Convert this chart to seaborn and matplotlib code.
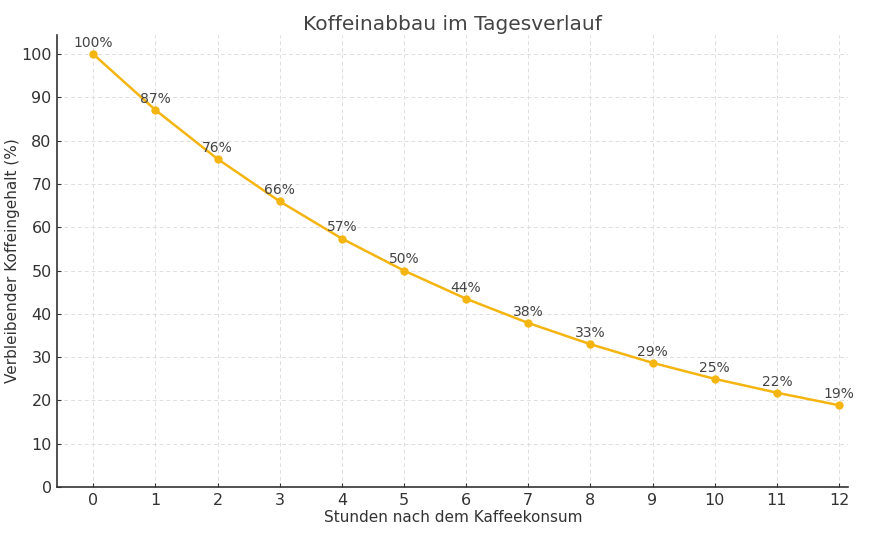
import matplotlib
matplotlib.use("Agg")
import matplotlib.pyplot as plt
import seaborn as sns
import pandas as pd

# data
hours = [0, 1, 2, 3, 4, 5, 6, 7, 8, 9, 10, 11, 12]
caffeine = [100.0, 87.1, 75.8, 66.0, 57.4, 50.0, 43.5, 37.9, 33.0, 28.7, 25.0, 21.8, 18.9]
labels = ["100%", "87%", "76%", "66%", "57%", "50%", "44%", "38%", "33%", "29%", "25%", "22%", "19%"]

df = pd.DataFrame({"h": hours, "c": caffeine})

sns.set_style("ticks")
plt.rcParams["font.family"] = ["DejaVu Sans"]
txt = "#333333"

fig, ax = plt.subplots(figsize=(8.8, 5.4), dpi=100)
sns.lineplot(data=df, x="h", y="c", ax=ax, color="#F5B511", lw=1.8,
             marker="o", markersize=6, markeredgewidth=0)

for h, c, lab in zip(hours, caffeine, labels):
    ax.annotate(lab, (h, c), xytext=(0, 3), textcoords="offset points",
                ha="center", va="bottom", fontsize=10, color="#444444")

ax.set_xlim(-0.58, 12.15)
ax.set_ylim(0, 104.4)
ax.set_xticks(hours)
ax.set_yticks(range(0, 101, 10))
ax.grid(True, ls=(0, (4, 3)), lw=0.7, color="#dedede")
ax.set_axisbelow(True)
ax.tick_params(direction="in", colors=txt, labelsize=11.5, length=3, pad=4)
for s in ["top", "right"]:
    ax.spines[s].set_visible(False)
for s in ["left", "bottom"]:
    ax.spines[s].set_color(txt)
    ax.spines[s].set_linewidth(1.2)

ax.set_title("Koffeinabbau im Tagesverlauf", fontsize=14.5, color="#444444", pad=4)
ax.set_xlabel("Stunden nach dem Kaffeekonsum", fontsize=11, color=txt, labelpad=2)
ax.set_ylabel("Verbleibender Koffeingehalt (%)", fontsize=11, color=txt, labelpad=1)

fig.subplots_adjust(left=0.065, right=0.964, top=0.935, bottom=0.098)
fig.savefig("out.png", dpi=100)
